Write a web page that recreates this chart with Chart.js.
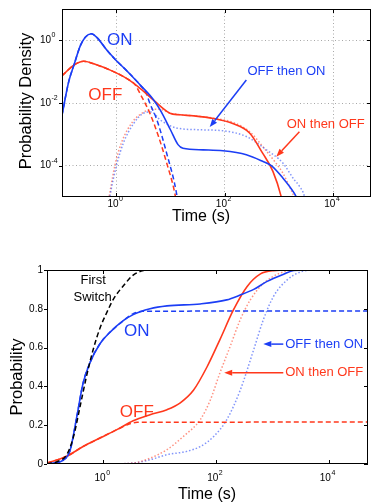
<!DOCTYPE html>
<html lang="en">
<head>
<meta charset="UTF-8">
<title>Switching time distributions</title>
<script src="https://cdn.jsdelivr.net/npm/chart.js"></script>
<style>
  html, body { margin: 0; padding: 0; background: #fff; }
  .panel { position: absolute; left: 0; width: 372px; }
  #top { top: 0; height: 250px; }
  #bottom { top: 250px; height: 253px; }
</style>
</head>
<body>
<div class="panel" id="top"><canvas id="densityChart" width="372" height="250"></canvas></div>
<div class="panel" id="bottom"><canvas id="cdfChart" width="372" height="253"></canvas></div>
<script>
// ---- top panel: probability density (time in s) ----
const onDensT   = [0.1, 0.133, 0.166, 0.219, 0.269, 0.347, 0.447, 0.676, 1.02, 1.58, 2.75, 4.79, 6.46, 10, 13.8, 17, 40, 93, 251, 501, 724, 1175, 1905, 2240];
const onDens    = [0.0041, 0.048, 0.162, 0.69, 1.26, 1.62, 1.2, 0.48, 0.22, 0.105, 0.038, 0.0132, 0.006, 0.0014, 0.00047, 0.00036, 0.00032, 0.0003, 0.000224, 0.000138, 0.0001, 0.000041, 0.0000135, 0.000008];
const offDensT  = [0.1, 0.166, 0.251, 0.447, 0.776, 1.58, 2.75, 5.25, 7, 9.77, 14.8, 26.3, 61.7, 141, 288, 501, 776, 1096, 1200];
const offDens   = [0.074, 0.162, 0.214, 0.162, 0.112, 0.06, 0.0295, 0.011, 0.0071, 0.0047, 0.0042, 0.0039, 0.0032, 0.0022, 0.0011, 0.00025, 0.000066, 0.0000107, 0.000005];
const onFirstDensT  = [0.1, 0.133, 0.166, 0.219, 0.269, 0.347, 0.447, 0.676, 1.02, 1.58, 2.75, 3.55, 4.17, 5.62, 8.51, 12.9, 14];
const onFirstDens   = [0.0041, 0.048, 0.162, 0.69, 1.26, 1.62, 1.2, 0.48, 0.22, 0.105, 0.038, 0.021, 0.0098, 0.0029, 0.00025, 0.0000135, 0.000005];
const offFirstDensT = [0.1, 0.166, 0.251, 0.447, 0.776, 1.58, 2.24, 2.75, 4.17, 6.03, 8.51, 12, 13.2];
const offFirstDens  = [0.074, 0.162, 0.214, 0.162, 0.112, 0.06, 0.038, 0.02, 0.0047, 0.00085, 0.000123, 0.0000135, 0.000005];
const offOnDensT = [0.72, 0.776, 1.02, 1.35, 2.09, 3.16, 4.47, 6.46, 12.9, 34.7, 93, 251, 589, 1175, 1905, 2400, 2950, 3200];
const offOnDens  = [0.000005, 0.000012, 0.000107, 0.00052, 0.0022, 0.0047, 0.0052, 0.0029, 0.0016, 0.0014, 0.0013, 0.00085, 0.00032, 0.000123, 0.000036, 0.000022, 0.0000107, 0.000005];
const onOffDensT = [0.69, 0.955, 1.26, 2, 3.16, 4.47, 6.3, 10, 15.8, 31.6, 63, 141, 288, 501, 832, 1175, 1660, 1905, 2100];
const onOffDens  = [0.000005, 0.00011, 0.00056, 0.0025, 0.005, 0.0063, 0.0063, 0.0047, 0.0042, 0.0038, 0.0033, 0.0024, 0.00123, 0.00041, 0.000138, 0.000059, 0.0000174, 0.00001, 0.000005];

// ---- bottom panel: cumulative probability ----
const firstCumT = [0.1, 0.158, 0.224, 0.295, 0.389, 0.501, 0.661, 0.871, 1.15, 1.51, 2.29, 3.39, 5.13, 6.76, 50000];
const firstCum  = [0, 0.014, 0.048, 0.14, 0.30, 0.45, 0.59, 0.70, 0.78, 0.85, 0.92, 0.974, 0.997, 1, 1];
const onCumT  = [0.1, 0.13, 0.195, 0.257, 0.339, 0.437, 0.575, 0.871, 1.32, 2.29, 3.39, 6.76, 13.5, 52.5, 155, 269, 468, 794, 1585, 2400, 4000, 50000];
const onCum   = [0, 0.005, 0.02, 0.07, 0.245, 0.417, 0.52, 0.62, 0.68, 0.74, 0.77, 0.80, 0.815, 0.825, 0.846, 0.871, 0.90, 0.94, 0.978, 0.997, 1, 1];
const onFirstCumT = [0.1, 0.13, 0.195, 0.257, 0.339, 0.437, 0.575, 0.871, 1.32, 2.29, 3.39, 5, 50000];
const onFirstCum  = [0, 0.005, 0.02, 0.07, 0.245, 0.417, 0.52, 0.62, 0.68, 0.74, 0.775, 0.787, 0.789];
const offCumT = [0.1, 0.224, 0.437, 0.871, 1.74, 3.39, 6.76, 13.5, 22.9, 39.8, 69.2, 117, 204, 355, 617, 1047, 2000, 50000];
const offCum  = [0.005, 0.04, 0.09, 0.134, 0.177, 0.223, 0.254, 0.28, 0.314, 0.38, 0.50, 0.64, 0.794, 0.914, 0.98, 0.997, 1, 1];
const offFirstCumT = [0.1, 0.224, 0.437, 0.871, 1.74, 2.8, 4, 50000];
const offFirstCum  = [0.005, 0.04, 0.09, 0.134, 0.177, 0.205, 0.215, 0.216];
const onOffCumT = [0.1, 1, 3.39, 6.76, 13.5, 26.3, 52.5, 79.4, 117, 178, 269, 407, 692, 1349, 2512, 50000];
const onOffCum  = [0, 0, 0.005, 0.03, 0.074, 0.142, 0.228, 0.33, 0.468, 0.605, 0.743, 0.846, 0.93, 0.983, 1, 1];
const offOnCumT = [0.1, 1, 3.39, 6.76, 13.5, 30.2, 52.5, 91.2, 155, 269, 468, 692, 1047, 1820, 3162, 6000, 50000];
const offOnCum  = [0, 0, 0.005, 0.022, 0.048, 0.065, 0.09, 0.142, 0.228, 0.38, 0.59, 0.743, 0.863, 0.948, 0.99, 1, 1];

const timeTicks = [1, 100, 10000];
const densityTicks = [1e-4, 1e-2, 1];
const probTicks = [0, 0.2, 0.4, 0.6, 0.8, 1];

const BLUE = 'rgb(28,62,245)';
const RED = 'rgb(255,56,28)';
const BLUE_DOT = 'rgba(28,62,245,0.55)';
const RED_DOT = 'rgba(255,56,28,0.55)';
const FONT = '"Liberation Sans", Arial, Helvetica, sans-serif';

function pts(ts, vs) { return ts.map((t, i) => ({ x: t, y: vs[i] })); }

function line(label, ts, vs, color, style) {
  const ds = { label, data: pts(ts, vs), borderColor: color, borderWidth: 1.6,
    pointRadius: 0, cubicInterpolationMode: 'monotone', fill: false };
  if (style === 'dash') { ds.borderDash = [5, 3]; ds.borderWidth = 1.5; }
  if (style === 'dot') { ds.borderDash = [1.5, 2]; ds.borderWidth = 1.5; }
  return ds;
}

// "10" with a small raised exponent; x is where the base ends
function drawPow(ctx, exp, x, y) {
  ctx.fillStyle = '#000';
  ctx.textBaseline = 'middle';
  ctx.textAlign = 'left';
  ctx.font = '10px ' + FONT;
  const bw = ctx.measureText('10').width;
  ctx.fillText('10', x - bw, y);
  ctx.font = '7px ' + FONT;
  ctx.fillText(String(exp), x + 0.5, y - 5);
}

function arrow(ctx, x1, y1, x2, y2, color) {
  const a = Math.atan2(y2 - y1, x2 - x1), L = 8, W = 3;
  const bx = x2 - L * Math.cos(a), by = y2 - L * Math.sin(a);
  ctx.strokeStyle = color; ctx.fillStyle = color; ctx.lineWidth = 1.5;
  ctx.setLineDash([]);
  ctx.beginPath(); ctx.moveTo(x1, y1); ctx.lineTo(bx, by); ctx.stroke();
  ctx.beginPath(); ctx.moveTo(x2, y2);
  ctx.lineTo(bx + W * Math.sin(a), by - W * Math.cos(a));
  ctx.lineTo(bx - W * Math.sin(a), by + W * Math.cos(a));
  ctx.closePath(); ctx.fill();
}

function decor(cfg) {
  return {
    id: 'decor',
    afterDraw(chart) {
      const ctx = chart.ctx, a = chart.chartArea;
      const xs = chart.scales.x, ys = chart.scales.y;
      ctx.save();
      // frame + tick marks
      ctx.strokeStyle = '#000'; ctx.lineWidth = 1; ctx.setLineDash([]);
      ctx.strokeRect(a.left + 0.5, a.top + 0.5, a.right - a.left - 1, a.bottom - a.top - 1);
      ctx.beginPath();
      cfg.xTicks.forEach(v => {
        const px = Math.round(xs.getPixelForValue(v)) + 0.5;
        ctx.moveTo(px, a.bottom); ctx.lineTo(px, a.bottom - 4);
        ctx.moveTo(px, a.top); ctx.lineTo(px, a.top + 4);
      });
      cfg.yTicks.forEach(v => {
        const py = Math.round(ys.getPixelForValue(v)) + 0.5;
        ctx.moveTo(a.left - 3, py); ctx.lineTo(a.left, py);
        ctx.moveTo(a.right, py); ctx.lineTo(a.right - 4, py);
      });
      ctx.stroke();
      // tick labels
      cfg.xTicks.forEach(v => {
        drawPow(ctx, Math.round(Math.log10(v)), xs.getPixelForValue(v) + 2.3, a.bottom + cfg.xLabelGap);
      });
      cfg.yTicks.forEach(v => {
        const py = ys.getPixelForValue(v);
        if (cfg.yLog) {
          drawPow(ctx, Math.round(Math.log10(v)), a.left - 11, py);
        } else {
          ctx.fillStyle = '#000'; ctx.font = '10px ' + FONT;
          ctx.textAlign = 'right'; ctx.textBaseline = 'middle';
          ctx.fillText(String(v), a.left - 4, py);
        }
      });
      // axis titles
      ctx.fillStyle = '#000';
      ctx.textAlign = 'center'; ctx.textBaseline = 'middle';
      ctx.font = '16px ' + FONT;
      ctx.fillText('Time (s)', cfg.xTitle[0], cfg.xTitle[1]);
      ctx.save();
      ctx.translate(cfg.yTitle[0], cfg.yTitle[1]);
      ctx.rotate(-Math.PI / 2);
      ctx.font = '16.5px ' + FONT;
      ctx.fillText(cfg.yTitleText, 0, 0);
      ctx.restore();
      // annotations
      cfg.notes.forEach(n => {
        ctx.fillStyle = n.color;
        ctx.font = n.size + 'px ' + FONT;
        ctx.textAlign = 'center'; ctx.textBaseline = 'middle';
        ctx.fillText(n.text, xs.getPixelForValue(n.x), ys.getPixelForValue(n.y));
      });
      cfg.arrows.forEach(r => {
        arrow(ctx, xs.getPixelForValue(r.from[0]), ys.getPixelForValue(r.from[1]),
          xs.getPixelForValue(r.to[0]), ys.getPixelForValue(r.to[1]), r.color);
      });
      ctx.restore();
    }
  };
}

function makeChart(id, datasets, o) {
  return new Chart(document.getElementById(id), {
    type: 'line',
    data: { datasets },
    options: {
      responsive: false,
      animation: false,
      events: [],
      layout: { autoPadding: false, padding: o.padding },
      plugins: { legend: { display: false }, tooltip: { enabled: false } },
      scales: {
        x: {
          type: 'logarithmic', min: 0.1, max: 50000,
          afterBuildTicks: s => { s.ticks = timeTicks.map(v => ({ value: v })); },
          afterFit: s => { s.height = o.xHeight; },
          ticks: { display: false },
          grid: { display: o.grid, color: '#a8a8a8', lineWidth: 1, drawTicks: false },
          border: { display: false, dash: [1, 2.5] }
        },
        y: {
          type: o.yLog ? 'logarithmic' : 'linear', min: o.yMin, max: o.yMax,
          afterBuildTicks: s => { s.ticks = o.yTicks.map(v => ({ value: v })); },
          afterFit: s => { s.width = o.yWidth; },
          ticks: { display: false },
          grid: { display: o.grid, color: '#a8a8a8', lineWidth: 1, drawTicks: false },
          border: { display: false, dash: [1, 2.5] }
        }
      }
    },
    plugins: [decor(o)]
  });
}

makeChart('densityChart', [
  line('ON', onDensT, onDens, BLUE),
  line('OFF', offDensT, offDens, RED),
  line('ON first', onFirstDensT, onFirstDens, BLUE, 'dash'),
  line('OFF first', offFirstDensT, offFirstDens, RED, 'dash'),
  line('OFF then ON', offOnDensT, offOnDens, BLUE_DOT, 'dot'),
  line('ON then OFF', onOffDensT, onOffDens, RED_DOT, 'dot')
], {
  padding: { top: 9, right: 1, left: 0, bottom: 0 },
  xHeight: 53, yWidth: 62, grid: true,
  yLog: true, yMin: 1e-5, yMax: 10,
  xTicks: timeTicks, yTicks: densityTicks, xLabelGap: 7,
  xTitle: [201, 217], yTitle: [26, 101], yTitleText: 'Probability Density',
  notes: [
    { text: 'ON', x: 1.16, y: 1.0, color: BLUE, size: 17 },
    { text: 'OFF', x: 0.63, y: 0.018, color: RED, size: 17 },
    { text: 'OFF then ON', x: 1380, y: 0.104, color: BLUE, size: 13 },
    { text: 'ON then OFF', x: 7300, y: 0.002, color: RED, size: 13 }
  ],
  arrows: [
    { from: [251, 0.054], to: [53, 0.0017], color: BLUE },
    { from: [2390, 0.0012], to: [895, 0.000194], color: RED }
  ]
});

makeChart('cdfChart', [
  line('First Switch', firstCumT, firstCum, '#000', 'dash'),
  line('ON', onCumT, onCum, BLUE),
  line('OFF', offCumT, offCum, RED),
  line('ON first', onFirstCumT, onFirstCum, BLUE, 'dash'),
  line('OFF first', offFirstCumT, offFirstCum, RED, 'dash'),
  line('ON then OFF', onOffCumT, onOffCum, RED_DOT, 'dot'),
  line('OFF then ON', offOnCumT, offOnCum, BLUE_DOT, 'dot')
], {
  padding: { top: 20, right: 4, left: 0, bottom: 0 },
  xHeight: 39, yWidth: 47, grid: false,
  yLog: false, yMin: 0, yMax: 1,
  xTicks: timeTicks, yTicks: probTicks, xLabelGap: 14,
  xTitle: [207, 245], yTitle: [17, 127], yTitleText: 'Probability',
  notes: [
    { text: 'First', x: 0.66, y: 0.945, color: '#000', size: 13 },
    { text: 'Switch', x: 0.645, y: 0.857, color: '#000', size: 13 },
    { text: 'ON', x: 3.93, y: 0.682, color: BLUE, size: 17 },
    { text: 'OFF', x: 3.93, y: 0.264, color: RED, size: 17 },
    { text: 'OFF then ON', x: 8350, y: 0.618, color: BLUE, size: 13 },
    { text: 'ON then OFF', x: 8350, y: 0.471, color: RED, size: 13 }
  ],
  arrows: [
    { from: [1567, 0.618], to: [692, 0.618], color: BLUE },
    { from: [1567, 0.471], to: [140, 0.471], color: RED }
  ]
});
</script>
</body>
</html>
